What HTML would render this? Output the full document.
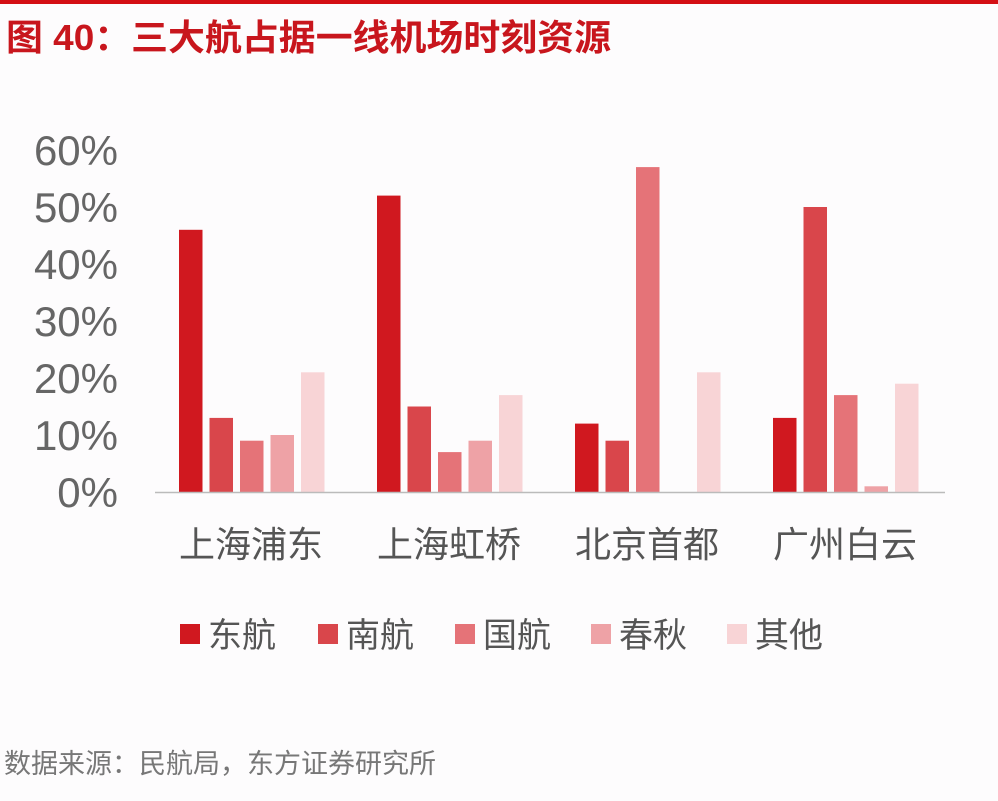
<!DOCTYPE html>
<html><head><meta charset="utf-8"><style>
body{margin:0;background:#fdfcfd;width:998px;height:796px;overflow:hidden;font-family:"Liberation Sans","Noto Sans CJK SC",sans-serif;}
</style></head><body>
<svg id="chart" width="998" height="796" xmlns="http://www.w3.org/2000/svg">
<rect x="0" y="0" width="998" height="4" fill="#d40f14"/>
<text x="6" y="50" font-size="36" font-weight="bold" fill="#c8161d" font-family="Liberation Sans, Noto Sans CJK SC, sans-serif" textLength="605" lengthAdjust="spacingAndGlyphs">图 40：三大航占据一线机场时刻资源</text>
<g id="yaxis"></g>
<g id="bars"></g>
<line x1="155" y1="492.5" x2="945" y2="492.5" stroke="#bbb" stroke-width="1.5"/>
<g id="xlabels"></g>
<g id="legend"></g>
<text x="4" y="773" font-size="27" fill="#777" font-family="Liberation Sans, Noto Sans CJK SC, sans-serif">数据来源：民航局，东方证券研究所</text>
</svg>
<script>
const categories = ["上海浦东","上海虹桥","北京首都","广州白云"];
const seriesNames = ["东航","南航","国航","春秋","其他"];
const eastern = [46,52,12,13];
const southern = [13,15,9,50];
const airChina = [9,7,57,17];
const spring = [10,9,0,1];
const others = [21,17,21,19];
const yTicks = [0,10,20,30,40,50,60];
const seriesData = [eastern,southern,airChina,spring,others];
const colors = ["#d0181f","#d9464b","#e57378","#eea2a6","#f8d4d6"];
const NS="http://www.w3.org/2000/svg";
const y0=492, pxPer=(492-150)/60;
const yScale=v=>y0-v*pxPer;
const groupX=i=>179+i*198;
const barStep=30.5, barW=23.5;
const yg=document.getElementById('yaxis');
yTicks.forEach(t=>{
  const e=document.createElementNS(NS,'text');
  
  
  e.setAttribute('x',118);e.setAttribute('y',yScale(t)+15);
  e.setAttribute('text-anchor','end');e.setAttribute('font-size','42');e.setAttribute('fill','#666');
  e.textContent=t+'%';yg.appendChild(e);
});
const bg=document.getElementById('bars');
seriesData.forEach((arr,s)=>{
  arr.forEach((v,i)=>{
    const r=document.createElementNS(NS,'rect');
    
    
    r.setAttribute('x',groupX(i)+s*barStep);r.setAttribute('y',yScale(v));
    r.setAttribute('width',barW);r.setAttribute('height',Math.max(0,y0-yScale(v)));
    r.setAttribute('fill',colors[s]);bg.appendChild(r);
  });
});
const xg=document.getElementById('xlabels');
categories.forEach((c,i)=>{
  const e=document.createElementNS(NS,'text');
  
  
  e.setAttribute('x',groupX(i)+72);e.setAttribute('y',557);
  e.setAttribute('text-anchor','middle');e.setAttribute('font-size','36');e.setAttribute('fill','#555');
  e.textContent=c;xg.appendChild(e);
});
const lg=document.getElementById('legend');
const lx=[180,318,455,591,727];
seriesNames.forEach((n,s)=>{
  const r=document.createElementNS(NS,'rect');
  
  
  r.setAttribute('x',lx[s]);r.setAttribute('y',624);r.setAttribute('width',20);r.setAttribute('height',20);
  r.setAttribute('fill',colors[s]);lg.appendChild(r);
  const t=document.createElementNS(NS,'text');
  
  
  t.setAttribute('x',lx[s]+28);t.setAttribute('y',647);t.setAttribute('font-size','34');t.setAttribute('fill','#555');
  t.textContent=n;lg.appendChild(t);
});
</script>
</body></html>
